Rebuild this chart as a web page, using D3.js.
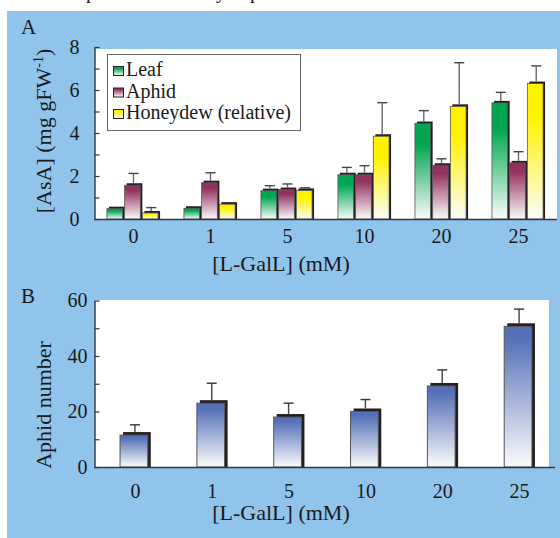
<!DOCTYPE html>
<html>
<head>
<meta charset="utf-8">
<script src="https://cdn.jsdelivr.net/npm/d3@7"></script>
<style>
body { margin: 0; background: white; }
text { font-family: "Liberation Serif", "DejaVu Serif", serif; fill: #1a1a1a; }
</style>
</head>
<body>
<script>
// values
var groups = ["0", "1", "5", "10", "20", "25"];
var series = ["Leaf", "Aphid", "Honeydew (relative)"];
var leaf = [0.48, 0.5, 1.32, 2.06, 4.44, 5.4];
var leafErr = [0, 0, 0.23, 0.34, 0.6, 0.49];
var aphid = [1.57, 1.69, 1.37, 2.06, 2.5, 2.61];
var aphidErr = [0.55, 0.46, 0.26, 0.42, 0.3, 0.52];
var honey = [0.28, 0.69, 1.33, 3.85, 5.24, 6.3];
var honeyErr = [0.25, 0, 0.12, 1.56, 2.03, 0.82];
var aphidNum = [11.5, 23, 18, 20, 29.2, 50.7];
var aphidNumErr = [3.7, 7.2, 5, 4.3, 5.8, 6.2];
var ticksA = [0, 1, 2, 3, 4, 5, 6, 7, 8];
var ticksB = [0, 10, 20, 30, 40, 50, 60];

draw();
function draw(){
	var W = 560, H = 538;
	var svg = d3.select("body").append("svg").attr("width", W).attr("height", H);
	var defs = svg.append("defs");
	function grad(id, col, hold){
		var g = defs.append("linearGradient").attr("id", id)
			.attr("x1", 0).attr("y1", 0).attr("x2", 0).attr("y2", 1);
		g.append("stop").attr("offset", "0%").attr("stop-color", col);
		g.append("stop").attr("offset", hold).attr("stop-color", col);
		g.append("stop").attr("offset", "100%").attr("stop-color", "#fbfcfb");
	}
	grad("gLeaf", "#00a651", "22%");
	grad("gAphid", "#93315f", "15%");
	grad("gHoney", "#fff200", "25%");
	grad("gBlue", "#5570b8", "8%");
	var fills = ["url(#gLeaf)", "url(#gAphid)", "url(#gHoney)"];

	// background
	svg.append("rect").attr("width", W).attr("height", H).attr("fill", "white");
	svg.append("rect").attr("x", 7).attr("y", 11).attr("width", W - 7).attr("height", H - 11).attr("fill", "#90c4eb");
	// cut caption line from above the figure
	svg.append("text").attr("x", 86).attr("y", -2).attr("font-size", 20).text("p");
	svg.append("text").attr("x", 216).attr("y", -2).attr("font-size", 20).text("y");
	svg.append("text").attr("x", 250).attr("y", -2).attr("font-size", 20).text("p");

	// ---------- panel A ----------
	svg.append("rect").attr("x", 95).attr("y", 49).attr("width", 462).attr("height", 170).attr("fill", "white");
	var x = d3.scaleBand().domain(groups).range([95, 557]).paddingInner(0.31).paddingOuter(0.155);
	var xs = d3.scaleBand().domain(d3.range(3)).range([0, x.bandwidth()]);
	var y = d3.scaleLinear().domain([0, 8]).range([219, 47]);
	var vals = [leaf, aphid, honey], errs = [leafErr, aphidErr, honeyErr];
	var bw = xs.bandwidth() - 2;
	var dataA = [];
	groups.forEach(function(g, i){
		for (var s = 0; s < 3; s++) dataA.push({g: g, s: s, v: vals[s][i], e: errs[s][i]});
	});
	var barsA = svg.append("g");
	barsA.selectAll(".sh").data(dataA).enter().append("rect")
		.attr("x", function(d){ return x(d.g) + xs(d.s) + 2; })
		.attr("y", function(d){ return y(d.v) - 2; })
		.attr("width", bw).attr("height", function(d){ return y(0) - y(d.v) + 2; })
		.attr("fill", "#231f20");
	barsA.selectAll(".bar").data(dataA).enter().append("rect")
		.attr("x", function(d){ return x(d.g) + xs(d.s); })
		.attr("y", function(d){ return y(d.v); })
		.attr("width", bw).attr("height", function(d){ return y(0) - y(d.v); })
		.attr("fill", function(d){ return fills[d.s]; })
		.attr("stroke", "#555").attr("stroke-width", 0.8);
	var eA = barsA.selectAll(".err").data(dataA.filter(function(d){ return d.e > 0; })).enter().append("g")
		.attr("transform", function(d){ return "translate(" + (x(d.g) + xs(d.s) + bw / 2 + 1) + ",0)"; });
	eA.append("line").attr("y1", function(d){ return y(d.v) - 2; }).attr("y2", function(d){ return y(d.v + d.e); })
		.attr("stroke", "#6a6a6a").attr("stroke-width", 1.4);
	eA.append("line").attr("x1", -5).attr("x2", 5)
		.attr("y1", function(d){ return y(d.v + d.e); }).attr("y2", function(d){ return y(d.v + d.e); })
		.attr("stroke", "#444").attr("stroke-width", 1.4);

	var axA = svg.append("g").attr("transform", "translate(94.5,0)")
		.call(d3.axisLeft(y).tickValues(ticksA).tickSize(-5).tickSizeOuter(0).tickPadding(15)
			.tickFormat(function(d){ return d % 2 === 0 ? d : ""; }));
	styleAxis(axA);
	svg.append("line").attr("x1", 94).attr("x2", 557).attr("y1", 219.5).attr("y2", 219.5)
		.attr("stroke", "#2d3a45").attr("stroke-width", 1.4);
	var xaA = svg.append("g").attr("transform", "translate(0,219)")
		.call(d3.axisBottom(x).tickSize(0).tickPadding(8));
	xaA.select(".domain").remove();
	xaA.selectAll("text").attr("font-size", 20).attr("fill", "#1a1a1a").attr("font-family", "Liberation Serif").attr("dy", "0.71em").attr("y", 10);

	svg.append("text").attr("x", 21).attr("y", 34).attr("font-size", 21).text("A");
	var tA = svg.append("text").attr("transform", "translate(51,131) rotate(-90)")
		.attr("text-anchor", "middle").attr("font-size", 22);
	tA.append("tspan").text("[AsA] (mg gFW");
	tA.append("tspan").attr("font-size", 14).attr("dy", -8).text("-1");
	tA.append("tspan").attr("dy", 8).text(")");
	svg.append("text").attr("x", 281).attr("y", 271).attr("text-anchor", "middle").attr("font-size", 22).text("[L-GalL] (mM)");

	// legend
	var lg = svg.append("g");
	lg.append("rect").attr("x", 107.5).attr("y", 54.5).attr("width", 193).attr("height", 76)
		.attr("fill", "white").attr("stroke", "#666").attr("stroke-width", 1);
	series.forEach(function(s, i){
		lg.append("rect").attr("x", 113.5).attr("y", 66.5 + i * 21.5).attr("width", 10).attr("height", 9)
			.attr("fill", fills[i]).attr("stroke", "#222").attr("stroke-width", 1);
		lg.append("text").attr("x", 126).attr("y", 76 + i * 21.5).attr("font-size", 20).text(s);
	});

	// ---------- panel B ----------
	svg.append("rect").attr("x", 95).attr("y", 300).attr("width", 454).attr("height", 167).attr("fill", "white");
	var xb = d3.scaleBand().domain(groups).range([97, 558]).paddingInner(0.6).paddingOuter(0.3);
	var yb = d3.scaleLinear().domain([0, 60]).range([467, 300.5]);
	var dataB = groups.map(function(g, i){ return {g: g, v: aphidNum[i], e: aphidNumErr[i]}; });
	var bwb = xb.bandwidth() - 3;
	var barsB = svg.append("g");
	barsB.selectAll(".sh").data(dataB).enter().append("rect")
		.attr("x", function(d){ return xb(d.g) + 3; })
		.attr("y", function(d){ return yb(d.v) - 3; })
		.attr("width", bwb).attr("height", function(d){ return yb(0) - yb(d.v) + 3; })
		.attr("fill", "#231f20");
	barsB.selectAll(".bar").data(dataB).enter().append("rect")
		.attr("x", function(d){ return xb(d.g); })
		.attr("y", function(d){ return yb(d.v); })
		.attr("width", bwb).attr("height", function(d){ return yb(0) - yb(d.v); })
		.attr("fill", "url(#gBlue)").attr("stroke", "#555").attr("stroke-width", 1);
	var eB = barsB.selectAll(".err").data(dataB).enter().append("g")
		.attr("transform", function(d){ return "translate(" + (xb(d.g) + bwb / 2 + 1) + ",0)"; });
	eB.append("line").attr("y1", function(d){ return yb(d.v) - 3; }).attr("y2", function(d){ return yb(d.v + d.e); })
		.attr("stroke", "#444").attr("stroke-width", 1.4);
	eB.append("line").attr("x1", -5).attr("x2", 5)
		.attr("y1", function(d){ return yb(d.v + d.e); }).attr("y2", function(d){ return yb(d.v + d.e); })
		.attr("stroke", "#333").attr("stroke-width", 1.4);

	var axB = svg.append("g").attr("transform", "translate(94.5,0)")
		.call(d3.axisLeft(yb).tickValues(ticksB).tickSize(-5).tickSizeOuter(0).tickPadding(7)
			.tickFormat(function(d){ return d % 20 === 0 ? d : ""; }));
	styleAxis(axB);
	svg.append("line").attr("x1", 94).attr("x2", 555).attr("y1", 467.5).attr("y2", 467.5)
		.attr("stroke", "#2d3a45").attr("stroke-width", 1.4);
	var xaB = svg.append("g").attr("transform", "translate(0,467)")
		.call(d3.axisBottom(xb).tickSize(0));
	xaB.select(".domain").remove();
	xaB.selectAll("text").attr("font-size", 20).attr("fill", "#1a1a1a").attr("font-family", "Liberation Serif").attr("dy", "0.71em").attr("y", 17);

	svg.append("text").attr("x", 21).attr("y", 303).attr("font-size", 21).text("B");
	svg.append("text").attr("transform", "translate(51,405) rotate(-90)")
		.attr("text-anchor", "middle").attr("font-size", 22).text("Aphid number");
	svg.append("text").attr("x", 281).attr("y", 520).attr("text-anchor", "middle").attr("font-size", 22).text("[L-GalL] (mM)");

	function styleAxis(a){
		a.select(".domain").attr("stroke", "#2d3a45").attr("stroke-width", 1.4);
		a.selectAll(".tick line").attr("stroke", "#2d3a45").attr("stroke-width", 1.2);
		a.selectAll(".tick text").attr("font-size", 20).attr("fill", "#1a1a1a").attr("font-family", "Liberation Serif");
	}
}
</script>
</body>
</html>
